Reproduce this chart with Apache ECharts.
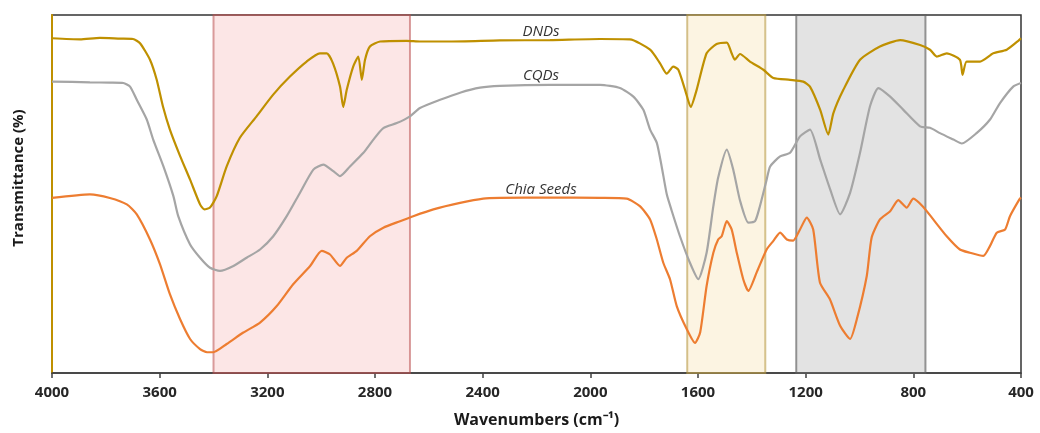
<!DOCTYPE html>
<html>
<head>
<meta charset="utf-8">
<script src="https://cdn.jsdelivr.net/npm/echarts@6/dist/echarts.min.js"></script>
<style>
  html, body { margin: 0; padding: 0; background: #ffffff; }
  #chart { width: 1040px; height: 433px; }
</style>
</head>
<body>
<div id="chart"></div>
<script>
// FTIR spectra (transmittance, arbitrary offset scale) vs wavenumber in cm-1
const dndWave = [4000,3896,3822,3747,3699,3673,3636,3611,3588,3562,3524,3487,3450,3434,3413,3388,3351,3302,3240,3179,3116,3054,3005,2979,2956,2930,2918,2905,2881,2862,2849,2837,2819,2781,2682,2633,2521,2336,2150,1964,1853,1778,1741,1716,1692,1673,1648,1627,1605,1568,1531,1493,1475,1463,1444,1407,1357,1320,1258,1209,1184,1146,1116,1097,1060,998,924,849,775,738,713,676,627,617,602,552,503,453,410,400];
const dndT    = [93.5,93.2,93.6,93.4,93.3,92.1,87.5,81.9,74.5,68.0,60.6,54.0,47.1,45.7,46.2,49.4,57.7,65.7,71.7,77.7,82.8,87.0,89.3,89.3,86.5,80.0,74.3,79.1,85.6,88.4,81.9,87.5,91.2,92.6,92.8,92.6,92.6,92.9,93.0,93.3,93.2,90.3,86.5,83.6,85.6,84.7,79.1,74.3,79.1,89.3,91.9,92.3,89.3,87.5,89.1,87.0,84.7,82.4,81.9,81.4,80.0,73.5,66.6,72.6,79.1,87.5,91.2,93.0,91.6,90.3,88.4,89.3,87.5,83.3,87.0,87.0,89.3,90.3,92.8,93.5];

const cqdWave = [4000,3859,3785,3735,3710,3685,3648,3624,3586,3549,3531,3487,3450,3413,3376,3326,3277,3227,3178,3128,3079,3029,2992,2955,2930,2893,2843,2806,2769,2719,2670,2633,2558,2484,2410,2336,2150,1964,1890,1840,1803,1778,1753,1735,1716,1698,1667,1630,1599,1568,1543,1525,1493,1469,1444,1413,1388,1370,1345,1332,1295,1258,1221,1184,1146,1109,1072,1035,998,961,930,886,837,775,738,701,651,620,565,515,478,429,400];
const cqdT    = [81.4,81.2,81.1,81.0,80.0,76.3,70.8,65.2,57.7,49.4,43.8,35.9,32.2,29.4,28.5,29.9,32.2,34.5,38.2,43.8,50.3,56.8,58.2,56.4,55.0,57.7,61.5,65.2,68.4,69.8,71.7,74.0,76.3,78.3,79.7,80.2,80.5,80.5,79.6,77.2,73.5,68.0,64.3,57.7,49.9,45.4,38.2,30.8,26.2,33.6,46.6,54.6,62.4,56.8,48.2,42.0,42.4,46.6,54.0,57.7,60.5,61.5,66.1,68.0,59.6,51.3,44.3,50.3,61.5,74.5,79.6,77.2,73.5,68.9,68.5,67.0,65.2,64.1,67.0,70.8,75.4,80.0,81.0];

const chiaWave = [4000,3859,3785,3722,3685,3636,3599,3562,3524,3487,3450,3424,3401,3351,3289,3227,3165,3104,3041,2998,2967,2930,2905,2868,2819,2769,2707,2658,2583,2484,2398,2336,2150,1964,1865,1816,1778,1753,1729,1704,1679,1642,1611,1592,1568,1543,1525,1512,1493,1475,1456,1432,1413,1382,1345,1320,1295,1270,1246,1221,1196,1172,1147,1110,1072,1035,1010,973,955,924,886,856,825,800,763,726,676,627,590,540,515,490,459,441,406,400];
const chiaT    = [48.9,49.9,48.9,47.1,44.3,37.3,30.4,22.0,15.0,9.5,6.7,5.8,5.8,8.1,11.3,14.1,18.7,24.8,29.9,34.1,33.1,29.9,32.2,34.1,38.2,40.6,42.4,43.8,45.7,47.5,48.7,48.9,49.0,48.9,48.7,46.6,42.9,37.3,30.8,26.2,18.7,12.3,8.4,11.3,24.3,33.6,37.3,38.2,42.4,40.1,33.6,26.2,22.9,28.1,34.5,36.9,39.2,37.3,37.0,40.1,43.4,40.1,25.3,20.6,13.2,9.5,15.0,27.1,37.8,42.9,45.2,48.3,46.2,48.7,46.4,42.9,38.2,34.5,33.6,32.7,35.5,39.2,40.1,43.8,48.5,49.0];

const xTicks = [4000, 3600, 3200, 2800, 2400, 2000, 1600, 1200, 800, 400];

// highlighted absorption bands [from, to] in cm-1
const bandOH = [3400, 2670];
const bandCO = [1640, 1350];
const bandCOC = [1235, 755];

const zip = (xs, ys) => xs.map((x, i) => [x, ys[i]]);

const chart = echarts.init(document.getElementById('chart'), null, { renderer: 'canvas' });

const lineSeries = (name, xs, ys, color) => ({
  name: name,
  type: 'line',
  data: zip(xs, ys),
  showSymbol: false,
  smooth: 0.2,
  lineStyle: { color: color, width: 2.2 },
  z: 2
});

const band = (range, fill, border) => [
  { xAxis: range[0], itemStyle: { color: fill, borderColor: border, borderWidth: 2 } },
  { xAxis: range[1] }
];

chart.setOption({
  animation: false,
  backgroundColor: '#ffffff',
  grid: {
    left: 52, right: 19, top: 15, bottom: 59,
    show: true, borderColor: '#333333', borderWidth: 1.5, backgroundColor: 'transparent'
  },
  xAxis: {
    type: 'value',
    inverse: true,
    min: 400, max: 4000, interval: 400,
    axisLine: { show: true, lineStyle: { color: '#404040', width: 1.5 } },
    axisTick: { show: true, length: 5, lineStyle: { color: '#404040', width: 1.5 } },
    axisLabel: {
      color: '#262626', fontFamily: 'Open Sans', fontWeight: 'bold', fontSize: 15, margin: 12,
      formatter: v => xTicks.indexOf(v) >= 0 ? String(v) : ''
    },
    splitLine: { show: false },
    name: 'Wavenumbers (cm\u207B\u00B9)',
    nameLocation: 'middle',
    nameGap: 39,
    nameTextStyle: { color: '#1a1a1a', fontFamily: 'Open Sans', fontWeight: 'bold', fontSize: 16 }
  },
  yAxis: {
    type: 'value',
    min: 0, max: 100,
    axisLine: { show: true, lineStyle: { color: '#bf9000', width: 2 } },
    axisTick: { show: false },
    axisLabel: { show: false },
    splitLine: { show: false }
  },
  series: [
    lineSeries('Chia Seeds', chiaWave, chiaT, '#ed7d31'),
    lineSeries('CQDs', cqdWave, cqdT, '#a5a5a5'),
    lineSeries('DNDs', dndWave, dndT, '#bf9000'),
    {
      name: 'bands',
      type: 'line',
      data: [],
      z: 5,
      markArea: {
        silent: true,
        data: [
          band(bandOH, 'rgba(240,128,128,0.2)', 'rgba(185,80,80,0.55)'),
          band(bandCO, 'rgba(240,200,110,0.2)', 'rgba(185,155,70,0.6)'),
          band(bandCOC, 'rgba(128,128,128,0.22)', 'rgba(95,95,95,0.65)')
        ]
      }
    }
  ],
  graphic: [
    {
      type: 'text', x: 19, y: 178, rotation: Math.PI / 2,
      style: {
        text: 'Transmittance (%)', fill: '#1a1a1a',
        font: 'bold 15px "Open Sans"', textAlign: 'center', textVerticalAlign: 'middle'
      }
    },
    {
      type: 'text', x: 541, y: 32,
      style: { text: 'DNDs', fill: '#333333', font: 'italic 15px "Open Sans"', textAlign: 'center', textVerticalAlign: 'middle' }
    },
    {
      type: 'text', x: 541, y: 76,
      style: { text: 'CQDs', fill: '#333333', font: 'italic 15px "Open Sans"', textAlign: 'center', textVerticalAlign: 'middle' }
    },
    {
      type: 'text', x: 541, y: 190,
      style: { text: 'Chia Seeds', fill: '#333333', font: 'italic 15px "Open Sans"', textAlign: 'center', textVerticalAlign: 'middle' }
    }
  ]
});
</script>
</body>
</html>
